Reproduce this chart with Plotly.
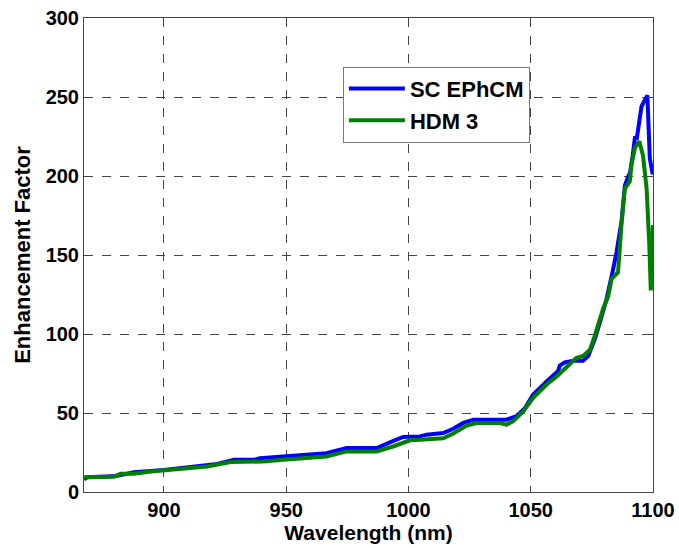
import plotly.graph_objects as go

# SC EPhCM (blue)
sc_x = [867.3, 868.6, 880.9, 887.7, 900.0, 908.2, 921.8, 928.6, 936.8, 939.2, 948.8, 966.5,
        974.7, 987.0, 992.4, 997.8, 1004.7, 1007.4, 1014.2, 1018.3, 1022.4, 1026.5, 1040.1,
        1044.2, 1047.6, 1051.0, 1056.5, 1061.2, 1061.9, 1063.9, 1067.3, 1071.4, 1073.5,
        1076.2, 1078.3, 1081.0, 1083.7, 1085.1, 1087.1, 1088.5, 1090.1, 1090.5, 1091.7,
        1092.6, 1093.4, 1094.6, 1095.3, 1096.6, 1097.7, 1098.7, 1099.9]
sc_y = [8.0, 9.3, 10.2, 12.5, 14.0, 15.5, 17.8, 20.4, 20.4, 21.4, 22.5, 24.6,
        27.8, 27.8, 31.4, 34.8, 35.2, 36.3, 37.3, 40.0, 43.7, 45.8, 45.8,
        48.0, 53.0, 61.7, 70.0, 76.6, 80.0, 82.0, 83.0, 83.0, 86.0,
        96.7, 107.5, 122.0, 141.0, 152.0, 171.0, 194.0, 200.7, 201.0, 213.0,
        224.0, 224.0, 237.0, 244.0, 248.0, 251.0, 211.0, 201.0]

# HDM 3 (green)
hdm_x = [867.3, 879.6, 882.3, 887.7, 894.6, 908.2, 917.7, 927.3, 936.8, 940.6, 948.8, 955.6,
         966.5, 974.7, 987.0, 993.7, 1000.6, 1004.7, 1014.2, 1018.3, 1023.8, 1027.8, 1037.4,
         1040.1, 1042.8, 1046.9, 1051.0, 1056.5, 1060.5, 1064.6, 1068.7, 1071.3, 1074.2,
         1076.2, 1079.6, 1081.7, 1083.1, 1084.4, 1085.7, 1087.1, 1088.5, 1090.5, 1091.2,
         1092.6, 1094.4, 1095.9, 1097.4, 1098.5, 1099.1, 1100.0]
hdm_y = [9.3, 9.7, 11.5, 11.5, 13.0, 14.5, 16.1, 19.0, 19.0, 19.3, 20.4, 21.4,
         22.5, 25.7, 25.7, 28.8, 32.7, 33.0, 34.0, 37.0, 42.0, 43.7, 43.7,
         42.6, 44.8, 51.0, 59.6, 68.0, 73.0, 79.0, 85.0, 86.0, 90.0,
         99.0, 116.0, 124.0, 135.0, 137.0, 139.0, 169.0, 192.0, 196.6, 207.0,
         217.7, 222.0, 213.0, 192.0, 156.0, 127.5, 169.0]

x_ticks = [900, 950, 1000, 1050, 1100]
y_ticks = [0, 50, 100, 150, 200, 250, 300]

font_family = "Liberation Sans, Arial, Helvetica, sans-serif"

fig = go.Figure()
fig.add_trace(go.Scatter(x=sc_x, y=sc_y, mode="lines", name="SC EPhCM",
                         line=dict(color="#0000FF", width=4)))
fig.add_trace(go.Scatter(x=hdm_x, y=hdm_y, mode="lines", name="HDM 3",
                         line=dict(color="#008000", width=4)))

axis_common = dict(
    showline=True, linecolor="#444444", linewidth=1, mirror="allticks",
    ticks="inside", ticklen=6, tickcolor="#444444",
    showgrid=True, gridcolor="#444444", griddash="dash", gridwidth=1,
    zeroline=False, automargin=False,
    tickfont=dict(family=font_family, size=20, color="black", weight="bold"),
)

fig.update_layout(
    width=679, height=548,
    margin=dict(l=84, r=26, t=18, b=56),
    paper_bgcolor="white", plot_bgcolor="white",
    font=dict(family=font_family, color="black"),
    showlegend=True,
    legend=dict(
        x=0.455, y=0.897, xanchor="left", yanchor="top",
        bgcolor="white", bordercolor="#777777", borderwidth=1,
        font=dict(family=font_family, size=22, color="black", weight="bold"),
        itemwidth=56,
    ),
    xaxis=dict(range=[867.3, 1100], tickvals=x_ticks,
               title=dict(text="Wavelength (nm)", standoff=2,
                          font=dict(family=font_family, size=21, weight="bold")),
               **axis_common),
    yaxis=dict(range=[0, 300], tickvals=y_ticks,
               title=dict(text="Enhancement Factor", standoff=8,
                          font=dict(family=font_family, size=22, weight="bold")),
               **axis_common),
)

# remove the browser's default body margin so the figure sits at the page origin
fig.write_html(
    "out.html",
    config={"displayModeBar": False},
    post_script="document.body.style.margin='0';document.body.style.overflow='hidden';",
)
